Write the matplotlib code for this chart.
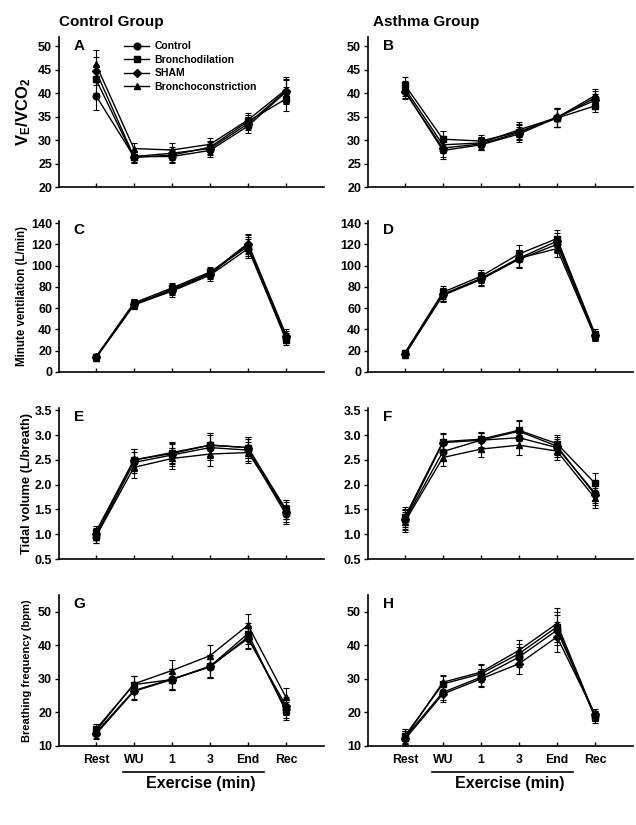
import matplotlib
matplotlib.use("Agg")
import matplotlib.pyplot as plt
from matplotlib.lines import Line2D
import numpy as np

plt.rcParams['font.family'] = ['Liberation Sans', 'DejaVu Sans']
plt.rcParams['mathtext.default'] = 'regular'

# ---------------- data ----------------
timepoints = ["Rest", "WU", "1", "3", "End", "Rec"]
series_names = ["Control", "Bronchodilation", "SHAM", "Bronchoconstriction"]

# Panel A: VE/VCO2, control group
A_control = [39.5, 26.5, 26.5, 27.8, 33.0, 40.3]
A_dil     = [43.0, 26.3, 26.8, 28.5, 34.0, 38.8]
A_sham    = [44.7, 26.5, 27.2, 28.2, 33.5, 40.5]
A_constr  = [46.2, 28.2, 27.9, 29.1, 34.3, 40.8]
A_err     = [3.0, 1.2, 1.4, 1.4, 1.4, 2.6]

# Panel B: VE/VCO2, asthma group
B_control = [40.5, 27.8, 29.0, 31.3, 34.8, 39.0]
B_dil     = [41.8, 30.2, 29.8, 31.8, 34.7, 37.3]
B_sham    = [40.3, 28.3, 29.2, 31.6, 34.9, 38.5]
B_constr  = [41.0, 29.0, 29.4, 32.2, 34.8, 39.5]
B_err     = [1.6, 1.8, 1.2, 1.6, 2.0, 1.4]

# Panel C: minute ventilation, control group
C_control = [14, 63, 76, 91, 116, 32]
C_dil     = [14, 65, 79, 94, 118, 30]
C_sham    = [14, 64, 77, 92, 120, 34]
C_constr  = [13, 63, 78, 93, 121, 35]
C_err     = [3, 4, 5, 5, 9, 5]

# Panel D: minute ventilation, asthma group
D_control = [17, 72, 87, 106, 120, 34]
D_dil     = [18, 75, 90, 111, 125.5, 36]
D_sham    = [17, 73, 88, 107, 123, 35]
D_constr  = [16, 73, 87, 107, 116, 33]
D_err     = [3, 6, 6, 8, 8, 4]

# Panel E: tidal volume, control group
E_control = [0.95, 2.45, 2.60, 2.75, 2.70, 1.40]
E_dil     = [1.05, 2.50, 2.65, 2.80, 2.75, 1.50]
E_sham    = [1.00, 2.50, 2.63, 2.80, 2.75, 1.45]
E_constr  = [0.95, 2.35, 2.53, 2.62, 2.65, 1.50]
E_err     = [0.12, 0.22, 0.22, 0.25, 0.22, 0.20]

# Panel F: tidal volume, asthma group
F_control = [1.28, 2.67, 2.90, 2.95, 2.75, 1.83]
F_dil     = [1.35, 2.87, 2.92, 3.10, 2.83, 2.03]
F_sham    = [1.30, 2.85, 2.90, 3.08, 2.78, 1.80]
F_constr  = [1.25, 2.55, 2.72, 2.80, 2.68, 1.73]
F_err     = [0.20, 0.18, 0.15, 0.20, 0.18, 0.20]

# Panel G: breathing frequency, control group
G_control = [14.0, 26.5, 30.0, 33.5, 42.5, 21.0]
G_dil     = [15.0, 28.3, 29.8, 33.7, 43.5, 20.3]
G_sham    = [13.5, 26.3, 29.8, 33.8, 42.0, 22.0]
G_constr  = [14.5, 28.5, 32.5, 36.9, 46.0, 24.5]
G_err     = [1.5, 2.5, 3.0, 3.3, 3.2, 2.7]

# Panel H: breathing frequency, asthma group
H_control = [12.5, 26.0, 30.5, 36.5, 44.5, 19.0]
H_dil     = [13.0, 28.5, 31.5, 37.5, 45.5, 18.5]
H_sham    = [12.0, 25.5, 30.0, 34.5, 42.5, 19.5]
H_constr  = [12.5, 29.0, 32.0, 38.5, 46.5, 19.0]
H_err     = [2.0, 2.3, 2.5, 3.0, 4.5, 1.5]

panels = {
    "A": ([A_control, A_dil, A_sham, A_constr], A_err),
    "B": ([B_control, B_dil, B_sham, B_constr], B_err),
    "C": ([C_control, C_dil, C_sham, C_constr], C_err),
    "D": ([D_control, D_dil, D_sham, D_constr], D_err),
    "E": ([E_control, E_dil, E_sham, E_constr], E_err),
    "F": ([F_control, F_dil, F_sham, F_constr], F_err),
    "G": ([G_control, G_dil, G_sham, G_constr], G_err),
    "H": ([H_control, H_dil, H_sham, H_constr], H_err),
}

markers = ["o", "s", "D", "^"]
msizes = [4.8, 4.8, 4.3, 5.0]

row_specs = [
    # letters, ylim, yticks, ylabel, tickfmt, label size, label x
    (("A", "B"), (20, 52), [20, 25, 30, 35, 40, 45, 50], r"V$_{E}$/VCO$_{2}$", "{:.0f}", 12, -0.098),
    (("C", "D"), (0, 142), [0, 20, 40, 60, 80, 100, 120, 140], "Minute ventilation (L/min)", "{:.0f}", 8.3, -0.117),
    (("E", "F"), (0.5, 3.55), [0.5, 1.0, 1.5, 2.0, 2.5, 3.0, 3.5], "Tidal volume (L/breath)", "{:.1f}", 9.3, -0.098),
    (("G", "H"), (10, 55), [10, 20, 30, 40, 50], "Breathing frequency (bpm)", "{:.0f}", 8.0, -0.10),
]
row_px = [(37, 187), (221, 372), (408, 559), (595, 746)]
col_px = [(59, 324), (368, 633)]

W, H = 636, 825
fig = plt.figure(figsize=(W / 100, H / 100), dpi=100)
x = np.arange(len(timepoints))

for r, (letters, ylim, yticks, ylabel, fmt, ylfs, ylx) in enumerate(row_specs):
    top, bot = row_px[r]
    for c in range(2):
        left, right = col_px[c]
        ax = fig.add_axes([left / W, 1 - bot / H, (right - left) / W, (bot - top) / H])
        letter = letters[c]
        vals, err = panels[letter]
        for i, s in enumerate(vals):
            ax.errorbar(x, s, yerr=err, color="black", lw=1.0, marker=markers[i],
                        ms=msizes[i], capsize=2.2, elinewidth=0.8, capthick=0.8,
                        zorder=3)
        ax.set_xlim(-0.97, 6.0)
        ax.set_ylim(*ylim)
        ax.set_yticks(yticks)
        ax.set_yticklabels([fmt.format(v) for v in yticks], fontsize=9, fontweight="bold")
        ax.set_xticks(x)
        for sp in ["top", "right"]:
            ax.spines[sp].set_visible(False)
        for sp in ["left", "bottom"]:
            ax.spines[sp].set_linewidth(1.2)
        ax.tick_params(axis="y", direction="out", length=3, width=1.0, pad=2)
        ax.tick_params(axis="x", direction="in", length=3, width=1.0, pad=6)
        if r == 3:
            ax.set_xticklabels(timepoints, fontsize=8.8, fontweight="bold")
            trans = ax.get_xaxis_transform()
            ax.plot([0.72, 4.43], [-0.172, -0.172], transform=trans, color="black",
                    lw=1.2, clip_on=False)
            ax.text(2.75, -0.25, "Exercise (min)", transform=trans, ha="center",
                    va="center", fontsize=11.5, fontweight="bold")
        else:
            ax.set_xticklabels([])
        ax.text(0.055, 0.99, letter, transform=ax.transAxes, fontsize=11,
                fontweight="bold", va="top", ha="left")
        if c == 0:
            ax.set_ylabel(ylabel, fontsize=ylfs, fontweight="bold")
            ax.yaxis.set_label_coords(ylx, 0.5)
        if letter == "A":
            handles = [Line2D([], [], color="black", lw=1.0, marker=markers[i],
                              ms=msizes[i]) for i in range(4)]
            ax.legend(handles, series_names, loc="upper left",
                      bbox_to_anchor=(0.23, 1.0), frameon=False,
                      prop={"size": 7.5, "weight": "bold"}, handlelength=2.4,
                      handletextpad=0.5, labelspacing=0.35, borderaxespad=0.0)
        if r == 0:
            title = "Control Group" if c == 0 else "Asthma Group"
            ax.text(0.0 if c == 0 else 0.02, 1.073, title, transform=ax.transAxes,
                    fontsize=11, fontweight="bold", ha="left", va="baseline")

fig.savefig("out.png", dpi=100)
